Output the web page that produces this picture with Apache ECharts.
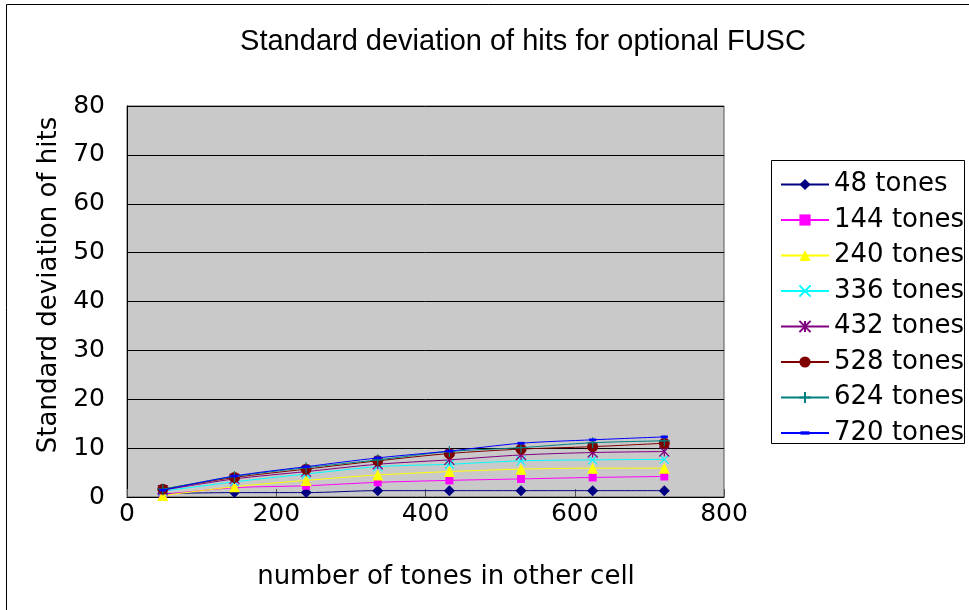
<!DOCTYPE html>
<html>
<head>
<meta charset="utf-8">
<script src="https://cdn.jsdelivr.net/npm/echarts@6/dist/echarts.min.js"></script>
<style>html,body{margin:0;padding:0;background:#fff}#c{width:969px;height:610px}</style>
</head>
<body>
<div id="c"></div>
<script>
const xValues = [48, 144, 240, 336, 432, 528, 624, 720];
const seriesNames = ['48 tones','144 tones','240 tones','336 tones','432 tones','528 tones','624 tones','720 tones'];
const s48  = [0.7, 0.9, 0.9, 1.3, 1.3, 1.3, 1.3, 1.3];
const s144 = [0.5, 1.9, 2.3, 3.0, 3.4, 3.7, 4.0, 4.2];
const s240 = [0.3, 2.1, 3.4, 4.5, 5.2, 5.7, 5.9, 5.9];
const s336 = [1.2, 3.1, 4.7, 6.2, 6.7, 7.4, 7.6, 7.7];
const s432 = [1.4, 3.7, 5.2, 6.7, 7.6, 8.6, 9.1, 9.3];
const s528 = [1.6, 4.0, 5.7, 7.4, 8.9, 9.8, 10.3, 11.0];
const s624 = [1.6, 4.2, 6.0, 7.6, 9.3, 10.1, 11.1, 11.5];
const s720 = [1.4, 4.3, 6.2, 8.0, 9.4, 11.0, 11.7, 12.3];
const allValues = [s48, s144, s240, s336, s432, s528, s624, s720];
const titleText = 'Standard deviation of hits for optional FUSC';
const xName = 'number of tones in other cell';
const yName = 'Standard deviation of hits';

const colors = ['#000080','#FF00FF','#FFFF00','#00FFFF','#800080','#800000','#008080','#0000FF'];
const symbols = [
  'diamond',
  'rect',
  'triangle',
  'path://M0,0L10,10M10,0L0,10',
  'path://M0,0L10,10M10,0L0,10M5,0L5,10',
  'circle',
  'path://M5,0L5,10M0,5L10,5',
  'path://M0,0M10,10M1,3.5L9,3.5L9,6.5L1,6.5Z'
];
const sizes = [11, 8, 11, 9, 10, 11, 11, 9];

const FONT = 'DejaVu Sans';
const chart = echarts.init(document.getElementById('c'));
const series = seriesNames.map((n, i) => ({
  name: n,
  type: 'line',
  data: xValues.map((x, j) => [x, allValues[i][j]]),
  symbol: symbols[i],
  symbolSize: sizes[i],
  symbolKeepAspect: true,
  smooth: 0.3,
  lineStyle: { color: colors[i], width: 1 },
  itemStyle: { color: colors[i], borderColor: colors[i], borderWidth: (i===3||i===4||i===6) ? 1.2 : 0 },
  emphasis: { disabled: true },
  z: 10 + i
}));

chart.setOption({
  animation: false,
  textStyle: { fontFamily: FONT },
  title: {
    text: titleText,
    left: 518, top: 22, textAlign: 'center',
    textStyle: { fontFamily: 'Liberation Sans', fontSize: 29, fontWeight: 'normal', color: '#000' }
  },
  grid: { left: 127, top: 106, right: 245, bottom: 113, show: true, backgroundColor: '#C9C9C9', borderColor: '#555', borderWidth: 1 },
  legend: {
    orient: 'vertical', left: 780, top: 171.5,
    padding: 0, itemWidth: 48, itemHeight: 14, itemGap: 9.5, itemTextGap: 8,
    textStyle: { fontFamily: FONT, fontSize: 26, lineHeight: 26, color: '#000' },
    data: seriesNames
  },
  xAxis: {
    type: 'value', min: 0, max: 800, interval: 200,
    axisLine: { show: true, onZero: false, lineStyle: { color: '#000', width: 1 } },
    axisTick: { show: true, inside: true, length: 8, lineStyle: { color: '#555' } },
    axisLabel: { fontFamily: FONT, fontSize: 25, color: '#000', margin: 5 },
    splitLine: { show: false }
  },
  yAxis: {
    type: 'value', min: 0, max: 80, interval: 10,
    axisLine: { show: true, lineStyle: { color: '#000', width: 1 } },
    axisTick: { show: false },
    axisLabel: { fontFamily: FONT, fontSize: 25, color: '#000', margin: 22 },
    splitLine: { show: true, lineStyle: { color: '#000', width: 1 } }
  },
  graphic: [
    { type: 'rect', shape: { x: 6.5, y: 4.5, width: 1000, height: 700 }, style: { fill: 'none', stroke: '#000', lineWidth: 1 }, silent: true, z: -10 },
    { type: 'rect', shape: { x: 771.5, y: 160.5, width: 193, height: 283 }, style: { fill: '#fff', stroke: '#000', lineWidth: 1 }, silent: true, z: -1 },
    { type: 'text', x: 446, y: 577, silent: true,
      style: { text: xName, font: '26px "DejaVu Sans"', fill: '#000', align: 'center', verticalAlign: 'middle' } },
    { type: 'text', x: 49, y: 285, rotation: Math.PI / 2, silent: true,
      style: { text: yName, font: '26px "DejaVu Sans"', fill: '#000', align: 'center', verticalAlign: 'middle' } }
  ],
  series: series
});
</script>
</body>
</html>
